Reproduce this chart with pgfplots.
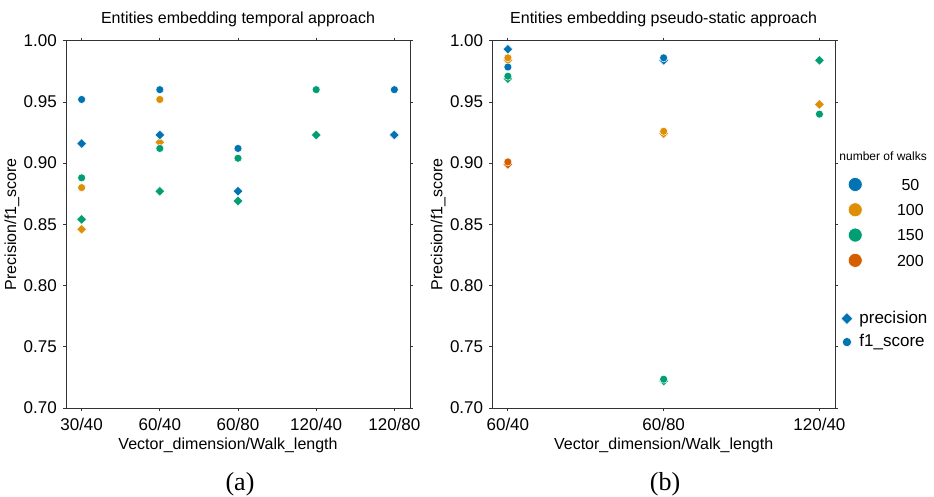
\documentclass[border=0pt]{standalone}
\usepackage{pgfplots}
\pgfplotsset{compat=1.18}
\usepackage{fontspec}
\setmainfont{Liberation Sans}
\newfontfamily\seriffont{Liberation Serif}
\definecolor{c50}{RGB}{1,115,178}
\definecolor{c100}{RGB}{222,143,5}
\definecolor{c150}{RGB}{2,158,115}
\definecolor{c200}{RGB}{213,94,0}
\pgfplotsset{
  dia/.style={only marks, mark=square*, mark size=3.5pt, mark options={rotate=45, fill=#1, draw=white, line width=0.5pt}},
  cir/.style={only marks, mark=*, mark size=4pt, mark options={fill=#1, draw=white, line width=0.5pt}},
  base/.style={
    scale only axis, height=367.3pt, anchor=south west,
    ymin=0.7, ymax=1.0,
    ytick={0.7,0.75,0.8,0.85,0.9,0.95,1.0},
    tick label style={font=\fontsize{17}{17}\selectfont},
    yticklabel style={inner sep=0pt, xshift=-6pt, /pgf/number format/fixed, /pgf/number format/fixed zerofill, /pgf/number format/precision=2, /pgf/number format/assume math mode=true},
    xticklabel style={inner sep=0pt, yshift=-6.7pt},
    tick align=outside, major tick length=3pt,
    tick style={color=black!80, line width=0.8pt},
    axis line style={color=black!80, line width=0.9pt},
    every axis title/.style={at={(axis description cs:0.5,1.0468)}, anchor=base, font=\fontsize{16}{16}\selectfont},
    every axis y label/.style={at={(axis description cs:-0.157,0.5)}, rotate=90, anchor=center, font=\fontsize{16}{16}\selectfont},
    ylabel={Precision/f1\_score},
    xlabel={Vector\_dimension/Walk\_length},
  },
  legcirc/.style 2 args={legend image code/.code={\path (0pt,0pt) (30pt,0pt); \path plot[mark=*, mark size=7pt, mark options={fill=#1, draw=white, line width=0.6pt}] coordinates {(17pt,#2)};}},
}
\begin{document}
\begin{tikzpicture}
\useasboundingbox (0,0) rectangle (934pt,497pt);
% ---------------- left ----------------
\begin{axis}[base, at={(66pt,89pt)}, width=344pt,
  xmin=-0.2, xmax=4.2,
  xtick={0,1,2,3,4}, xticklabels={30/40,60/40,60/80,120/40,120/80},
  title={Entities embedding temporal approach},
  every axis x label/.style={at={(axis description cs:0.471,-0.1135)}, anchor=base, font=\fontsize{16}{16}\selectfont},
]
% precision (diamonds)
\addplot[dia=c100, forget plot] coordinates {(0,0.846) (1,0.917)};
\addplot[dia=c50, forget plot] coordinates {(0,0.916) (1,0.923) (2,0.877) (4,0.923)};
\addplot[dia=c150, forget plot] coordinates {(0,0.854) (1,0.877) (2,0.869) (3,0.923)};
% f1 (circles)
\addplot[cir=c50, forget plot] coordinates {(0,0.952) (1,0.960) (2,0.912) (4,0.960)};
\addplot[cir=c100, forget plot] coordinates {(0,0.880) (1,0.952)};
\addplot[cir=c150, forget plot] coordinates {(0,0.888) (1,0.912) (2,0.904) (3,0.960)};
\end{axis}
% ---------------- right ----------------
\begin{axis}[base, at={(492.3pt,89pt)}, width=342.7pt,
  xmin=-0.1, xmax=2.1,
  xtick={0,1,2}, xticklabels={60/40,60/80,120/40},
  title={Entities embedding pseudo-static approach},
  every axis y label/.style={at={(axis description cs:-0.158,0.5)}, rotate=90, anchor=center, font=\fontsize{16}{16}\selectfont},
  every axis x label/.style={at={(axis description cs:0.5,-0.1135)}, anchor=base, font=\fontsize{16}{16}\selectfont},
  legend style={draw=none, fill=none, inner sep=0pt, outer sep=0pt, row sep=0pt, column sep=0pt,
    nodes={inner sep=0pt, outer sep=0pt},
    cells={anchor=base west},
    at={(axis description cs:1.0088,0.706)}, anchor=north west},
]
% precision (diamonds)
\addplot[dia=c50, forget plot] coordinates {(0,0.993) (1,0.984)};
\addplot[dia=c100, forget plot] coordinates {(0,0.984) (1,0.924) (2,0.948)};
\addplot[dia=c150, forget plot] coordinates {(0,0.969) (1,0.722) (2,0.984)};
\addplot[dia=c200, forget plot] coordinates {(0,0.899)};
% f1 (circles)
\addplot[cir=c50, forget plot] coordinates {(0,0.9785) (1,0.986)};
\addplot[cir=c100, forget plot] coordinates {(0,0.986) (1,0.926)};
\addplot[cir=c150, forget plot] coordinates {(0,0.971) (1,0.7235) (2,0.940)};
\addplot[cir=c200, forget plot] coordinates {(0,0.901)};
% legend
\addlegendimage{empty legend}
\addlegendentry{\hspace*{-29pt}\rule[-5pt]{0pt}{17pt}\fontsize{12}{12}\selectfont number of walks}
\addlegendimage{legcirc={c50}{5.7pt}}
\addlegendentry{\rule[-5pt]{0pt}{33pt}\makebox[84pt][c]{\fontsize{16}{16}\selectfont 50}}
\addlegendimage{legcirc={c100}{5.7pt}}
\addlegendentry{\rule[-5pt]{0pt}{28.8pt}\makebox[84pt][c]{\fontsize{16}{16}\selectfont 100}}
\addlegendimage{legcirc={c150}{5.7pt}}
\addlegendentry{\rule[-5pt]{0pt}{28.8pt}\makebox[84pt][c]{\fontsize{16}{16}\selectfont 150}}
\addlegendimage{legcirc={c200}{5.7pt}}
\addlegendentry{\rule[-5pt]{0pt}{28.8pt}\makebox[84pt][c]{\fontsize{16}{16}\selectfont 200}}
\addlegendimage{empty legend}
\addlegendentry{\rule[-5pt]{0pt}{44pt}}
\addlegendimage{legend image code/.code={\path (0pt,0pt) (30pt,0pt); \path plot[mark=square*, mark size=4.2pt, mark options={rotate=45, fill=c50, draw=white, line width=0.5pt}] coordinates {(8.7pt,4.5pt)};}}
\addlegendentry{\hspace*{-9pt}\rule[-5pt]{0pt}{20pt}\fontsize{17}{17}\selectfont precision}
\addlegendimage{legend image code/.code={\path (0pt,0pt) (30pt,0pt); \path plot[mark=*, mark size=4.6pt, mark options={fill=c50, draw=white, line width=0.5pt}] coordinates {(8.7pt,4.5pt)};}}
\addlegendentry{\hspace*{-9pt}\rule[-5pt]{0pt}{27pt}\fontsize{17}{17}\selectfont f1\_score}
\end{axis}
\node[anchor=base, font=\seriffont\fontsize{26}{26}\selectfont] at (240pt,6pt) {(a)};
\node[anchor=base, font=\seriffont\fontsize{26}{26}\selectfont] at (665pt,6pt) {(b)};
\end{tikzpicture}
\end{document}
